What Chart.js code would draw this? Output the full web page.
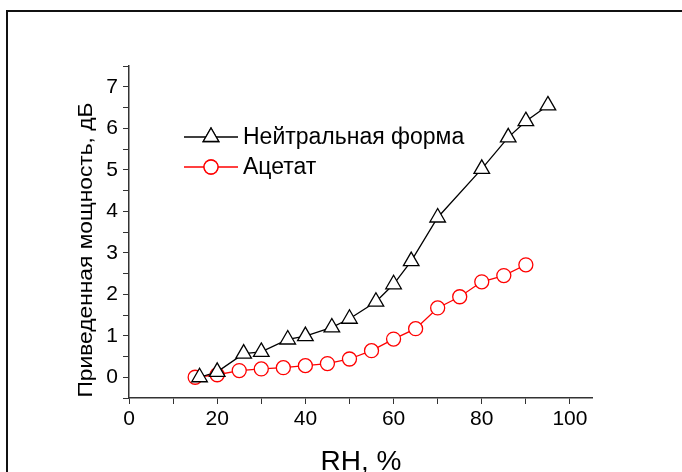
<!DOCTYPE html>
<html>
<head>
<meta charset="utf-8">
<script src="https://cdn.jsdelivr.net/npm/chart.js@4.4.1/dist/chart.umd.min.js"></script>
<style>
  html, body { margin: 0; padding: 0; background: #fff; }
  #wrap { width: 682px; height: 472px; position: relative; }
</style>
</head>
<body>
<div id="wrap"><canvas id="chart"></canvas></div>
<script>
const neutralRH = [16, 20, 26, 30, 36, 40, 46, 50, 56, 60, 64, 70, 80, 86, 90, 95]
const neutralPower = [0, 0.13, 0.57, 0.61, 0.91, 0.99, 1.2, 1.41, 1.82, 2.24, 2.8, 3.85, 5.02, 5.78, 6.17, 6.55]
const acetateRH = [15, 20, 25, 30, 35, 40, 45, 50, 55, 60, 65, 70, 75, 80, 85, 90]
const acetatePower = [0, 0.06, 0.16, 0.2, 0.23, 0.28, 0.33, 0.44, 0.64, 0.92, 1.17, 1.67, 1.94, 2.3, 2.45, 2.71]
const seriesNames = ['Нейтральная форма', 'Ацетат']
const xTitle = 'RH, %'
const yTitle = 'Приведенная мощность, дБ'

const FONT = '"Liberation Sans", Arial, sans-serif'

function toPoints(xs, ys) {
  return xs.map((x, i) => ({ x: x, y: ys[i] }))
}

// outer frame, axis titles and the legend box
const decorations = {
  id: 'decorations',
  beforeDraw(chart) {
    const ctx = chart.ctx
    ctx.save()
    ctx.strokeStyle = '#111'
    ctx.lineWidth = 2
    ctx.beginPath()
    ctx.moveTo(7, 472)
    ctx.lineTo(7, 11)
    ctx.lineTo(682, 11)
    ctx.stroke()
    ctx.restore()
  },
  afterDraw(chart) {
    const ctx = chart.ctx
    ctx.save()
    ctx.fillStyle = '#000'

    // x title
    ctx.font = '28px ' + FONT
    ctx.textAlign = 'center'
    ctx.textBaseline = 'alphabetic'
    ctx.fillText(xTitle, 361, 470)

    // y title (stretched a little along its length, like the original)
    ctx.save()
    ctx.translate(92, 250)
    ctx.rotate(-Math.PI / 2)
    ctx.font = '20px ' + FONT
    const w = ctx.measureText(yTitle).width
    ctx.scale(295 / w, 1)
    ctx.fillText(yTitle, 0, 0)
    ctx.restore()

    // legend
    const rows = [
      { y: 137, color: '#000', style: 'triangle', radius: 9, label: seriesNames[0] },
      { y: 167, color: '#ff0000', style: 'circle', radius: 7, label: seriesNames[1] }
    ]
    rows.forEach(row => {
      ctx.strokeStyle = row.color
      ctx.lineWidth = 1.3
      ctx.beginPath()
      ctx.moveTo(184, row.y)
      ctx.lineTo(238, row.y)
      ctx.stroke()
      ctx.fillStyle = '#fff'
      Chart.helpers.drawPoint(ctx, {
        pointStyle: row.style, radius: row.radius, borderWidth: 1.3, rotation: 0
      }, 211, row.y)
      ctx.fill()
      ctx.stroke()
      ctx.fillStyle = '#000'
      ctx.font = '23px ' + FONT
      ctx.textAlign = 'left'
      ctx.textBaseline = 'middle'
      ctx.fillText(row.label, 243, row.y + 1)
    })
    ctx.restore()
  }
}

new Chart(document.getElementById('chart'), {
  type: 'line',
  data: {
    datasets: [
      {
        label: seriesNames[0],
        data: toPoints(neutralRH, neutralPower),
        borderColor: '#000',
        borderWidth: 1.3,
        pointStyle: 'triangle',
        pointRadius: 9,
        pointBorderWidth: 1.3,
        pointBorderColor: '#000',
        pointBackgroundColor: '#fff',
        tension: 0
      },
      {
        label: seriesNames[1],
        data: toPoints(acetateRH, acetatePower),
        borderColor: '#ff0000',
        borderWidth: 1.3,
        pointStyle: 'circle',
        pointRadius: 7,
        pointBorderWidth: 1.3,
        pointBorderColor: '#ff0000',
        pointBackgroundColor: '#fff',
        tension: 0
      }
    ]
  },
  options: {
    responsive: true,
    maintainAspectRatio: false,
    animation: false,
    layout: { padding: { top: 66, right: 90, left: 0, bottom: 0 } },
    plugins: {
      legend: { display: false },
      tooltip: { enabled: false }
    },
    scales: {
      x: {
        type: 'linear',
        min: 0,
        max: 105,
        afterFit(scale) { scale.height = 74 },
        border: { color: '#333', width: 1.5 },
        grid: { drawOnChartArea: false, drawTicks: true, tickLength: 6, color: '#333', lineWidth: 1 },
        ticks: {
          stepSize: 10,
          includeBounds: false,
          padding: 3,
          color: '#000',
          font: { family: FONT, size: 21 },
          maxRotation: 0,
          autoSkip: false,
          callback: v => (v % 20 === 0 ? String(v) : '')
        }
      },
      y: {
        type: 'linear',
        min: -0.5,
        max: 7.5,
        afterFit(scale) { scale.width = 129 },
        border: { color: '#333', width: 1.5 },
        grid: { drawOnChartArea: false, drawTicks: true, tickLength: 6, color: '#333', lineWidth: 1 },
        ticks: {
          stepSize: 0.5,
          includeBounds: false,
          padding: 5,
          color: '#000',
          font: { family: FONT, size: 21 },
          autoSkip: false,
          callback: v => (Number.isInteger(v) ? String(v) : '')
        }
      }
    }
  },
  plugins: [decorations]
})
</script>
</body>
</html>
